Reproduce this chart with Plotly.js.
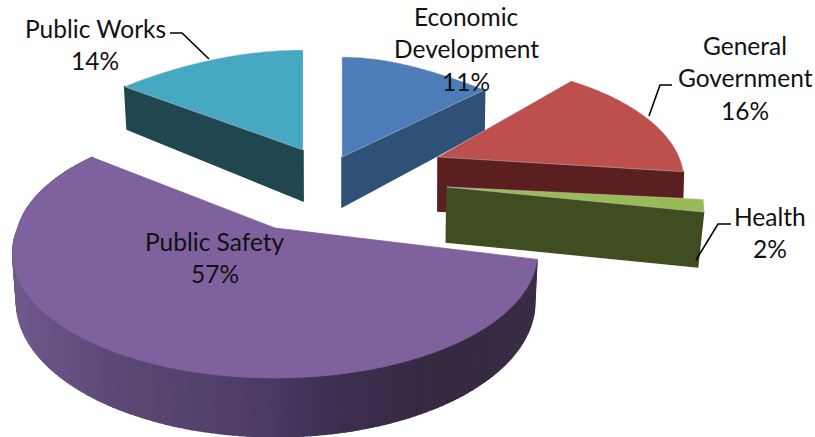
<!DOCTYPE html>
<html><head><meta charset="utf-8">
<script src="https://cdn.plot.ly/plotly-3.0.1.min.js"></script>
<style>html,body{margin:0;padding:0;background:#fff}#c{width:815px;height:437px}</style>
</head><body><div id="c"></div>
<script>
// DATA
const categories = ["Economic Development","General Government","Health","Public Safety","Public Works"];
const values = [11,16,2,57,14];
const labelLines = [["Economic","Development"],["General","Government"],["Health"],["Public Safety"],["Public Works"]];

// STYLE / GEOMETRY
const topColors  = ["#4d7db8","#bd4f4c","#98bb57","#7f619d","#47a8c4"];
const wallColors = ["#2f5178","#5a1f1e","#404d21","#4a3a60","#20464f"];
const apexX = [342,438,447,275,303];
const apexY = [157,157,187,228,150];
const scaleX = [0.975,0.91,0.95,0.97,0.985];
const scaleY = [1,0.95,0.8,1,1];
const backP  = [0.2,0.2,0.2,0.13,0.2];
const squash = [0.25,0,0,0,0.08];
const depth  = [47,51,52,47,48];
const pinch  = [0.004,0.004,0.016,0.012,0.012];
const R = 265, K = 120, P = 0.2, CX = 330;
const labelX = [466,745,770,215,95];
const labelY = [[16,48,81],[45,77,110],[216,248],[241,273],[28,60]];
const leaders = [null,[[672,660,649],[85,85,116]],[[731,718,696],[224,224,260]],null,[[170,182,209],[33,33,59]]];
const wallStops = [[10,[112,90,142]],[100,[94,74,120]],[250,[78,60,103]],[340,[60,46,79]],[450,[53,41,64]],[540,[58,46,71]]];

const total = values.reduce((a,b)=>a+b,0);
let acc = 0;
const slices = values.map((v,i)=>{const s=acc/total*2*Math.PI; acc+=v; return {i,s,e:acc/total*2*Math.PI};});

function proj(i,th,z){
  const u=Math.sin(th), v=Math.cos(th), w=1+(v>0?backP[i]:P)*v;
  const q=v>0?1-squash[i]+squash[i]*Math.pow(v,4):1;
  let x=apexX[i]+R*scaleX[i]*u/w, y=apexY[i]-K*scaleY[i]*v/w*q;
  if(z){ y+=depth[i]/w; x=x-(x-CX)*pinch[i]; }
  return [x,y];
}
function apex(i,z){
  let x=apexX[i], y=apexY[i];
  if(z){ y+=depth[i]+3; x=x-(x-CX)*pinch[i]*0.4; }
  return [x,y];
}
function poly(pts,fill,line,lw){
  return {type:"scatter",mode:"lines",x:pts.map(p=>p[0]).concat(pts[0][0]),y:pts.map(p=>p[1]).concat(pts[0][1]),
    fill:"toself",fillcolor:fill,line:{color:line||fill,width:lw===undefined?1.5:lw,simplify:false},hoverinfo:"skip",showlegend:false};
}
function stopColor(x){
  for(let k=0;k<wallStops.length-1;k++){
    const a=wallStops[k],b=wallStops[k+1];
    if(x<=b[0]){const t=Math.max(0,(x-a[0])/(b[0]-a[0]));
      return "rgb("+a[1].map((c,j)=>Math.round(c+(b[1][j]-c)*t)).join(",")+")";}
  }
  return "rgb("+wallStops[wallStops.length-1][1].join(",")+")";
}
function arc(i,a,b,n){const o=[];for(let k=0;k<=n;k++){o.push(proj(i,a+(b-a)*k/n,false));}return o;}

const traces=[];
const order=[4,0,1,2,3];
order.forEach(i=>{
  const sl=slices[i];
  if(i===3){
    const n=160;
    for(let k=0;k<n;k++){
      const a=sl.s+(sl.e-sl.s)*k/n, b=sl.s+(sl.e-sl.s)*(k+1)/n;
      const p1=proj(i,a,false),p2=proj(i,b,false),p3=proj(i,b,true),p4=proj(i,a,true);
      traces.push(poly([p1,p2,p3,p4],stopColor((p1[0]+p2[0])/2)));
    }
  } else {
    const th = i===4 ? sl.s : sl.e;
    traces.push(poly([apex(i,false),proj(i,th,false),proj(i,th,true),apex(i,true)],wallColors[i]));
  }
  traces.push(poly([apex(i,false)].concat(arc(i,sl.s,sl.e,60)),topColors[i],i===3?topColors[i]:"rgba(205,205,205,0.6)",0.8));
});
leaders.forEach(l=>{ if(l) traces.push({type:"scatter",mode:"lines",x:l[0],y:l[1],line:{color:"#000",width:1.6},hoverinfo:"skip",showlegend:false}); });

const annotations=[];
categories.forEach((c,i)=>{
  const lines=labelLines[i].concat(values[i]+"%");
  lines.forEach((t,k)=>annotations.push({x:labelX[i],y:labelY[i][k],xref:"x",yref:"y",text:t,showarrow:false,xanchor:"center",yanchor:"middle",
    font:{family:"Lato, 'Noto Sans', sans-serif",size:24.5,color:"#111"}}));
});

Plotly.newPlot("c",traces,{
  width:815,height:437,margin:{l:0,r:0,t:0,b:0},paper_bgcolor:"#fff",plot_bgcolor:"#fff",showlegend:false,
  xaxis:{range:[0,815],visible:false,fixedrange:true},
  yaxis:{range:[437,0],visible:false,fixedrange:true},
  annotations
},{displayModeBar:false,staticPlot:true});
</script></body></html>
